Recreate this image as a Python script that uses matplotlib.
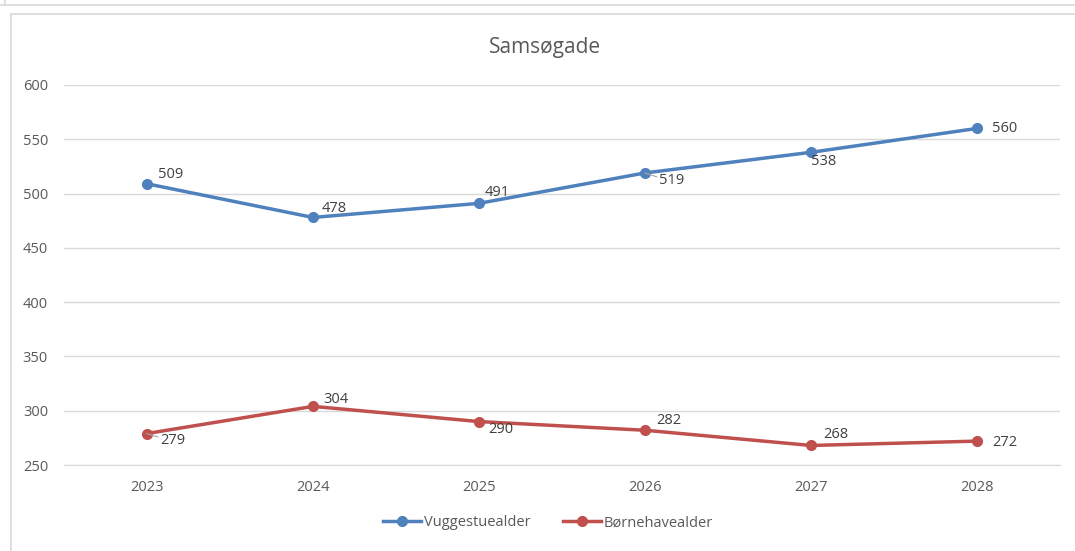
import matplotlib
matplotlib.use("Agg")
import matplotlib.pyplot as plt
from matplotlib.lines import Line2D

years = ["2023", "2024", "2025", "2026", "2027", "2028"]
vugge = [509, 478, 491, 519, 538, 560]
borne = [279, 304, 290, 282, 268, 272]
series_names = ["Vuggestuealder", "Børnehavealder"]
title = "Samsøgade"
yticks = [250, 300, 350, 400, 450, 500, 550, 600]

# label offsets in pixels (dx, dy), dy positive = up; text left-aligned at dx
vugge_off = [(11, 9), (9, 9), (6, 11), (14, -8), (0, -9), (15, 0)]
borne_off = [(13, -7), (10, 7), (9, -8), (11, 10), (12, 11), (15, -1)]
vugge_leader = [False, False, False, True, False, False]
borne_leader = [True, False, False, False, False, False]

plt.rcParams['font.family'] = ['Open Sans', 'DejaVu Sans']
gray = "#595959"
blue = "#4F81BD"
red = "#C0504D"

fig = plt.figure(figsize=(10.75, 5.51), dpi=100)
ax = fig.add_axes([64/1075, 1-465/551, (1060-64)/1075, (465-85)/551])

x = list(range(len(years)))
ax.plot(x, vugge, color=blue, lw=2.5, marker='o', ms=7, solid_capstyle='round', zorder=3)
ax.plot(x, borne, color=red, lw=2.5, marker='o', ms=7, solid_capstyle='round', zorder=3)

def label(vals, offs, leaders):
    for i, (v, (dx, dy), ld) in enumerate(zip(vals, offs, leaders)):
        ax.annotate(str(v), (i, v), xytext=(dx * 0.72, dy * 0.72), textcoords='offset points',
                    ha='left', va='center', fontsize=10.5, color='#404040', zorder=4)
        if ld:
            ax.annotate("", (i, v), xytext=(dx * 0.72 - 1.5, dy * 0.72 * 0.5), textcoords='offset points',
                        arrowprops=dict(arrowstyle='-', color='#a6a6a6', lw=0.8, shrinkA=0, shrinkB=0))

label(vugge, vugge_off, vugge_leader)
label(borne, borne_off, borne_leader)

ax.set_xlim(-0.5, len(years) - 0.5)
ax.set_ylim(250, 600)
ax.set_yticks(yticks)
ax.set_xticks(x)
ax.set_xticklabels(years)
ax.grid(axis='y', color='#d9d9d9', lw=1)
ax.set_axisbelow(True)
for s in ax.spines.values():
    s.set_visible(False)
ax.spines['bottom'].set_visible(True)
ax.spines['bottom'].set_color('#d9d9d9')
ax.tick_params(length=0, colors=gray, labelsize=10.5)
ax.tick_params(axis='y', pad=11.5)
ax.tick_params(axis='x', pad=11)

fig.text(545/1075, 1-47/551, title, ha='center', va='center', fontsize=15, color=gray)

handles = [Line2D([], [], color=blue, lw=2.5, marker='o', ms=7),
           Line2D([], [], color=red, lw=2.5, marker='o', ms=7)]
fig.legend(handles, series_names, loc='center', bbox_to_anchor=(548/1075, 1-523/551),
           ncol=2, frameon=False, fontsize=10.5, labelcolor=gray, handlelength=2.6,
           handletextpad=0.2, columnspacing=2.2)

# frame lines
fig.add_artist(Line2D([0, 1], [1-5/551, 1-5/551], color='#d9d9d9', lw=1.2))
fig.add_artist(Line2D([11/1075, 1], [1-14/551, 1-14/551], color='#d9d9d9', lw=1.2))
fig.add_artist(Line2D([11/1075, 11/1075], [0, 1-14/551], color='#d9d9d9', lw=1.2))
fig.add_artist(Line2D([5/1075, 5/1075], [1-5/551, 1], color='#d9d9d9', lw=1.2))

fig.savefig("out.png", dpi=100)
